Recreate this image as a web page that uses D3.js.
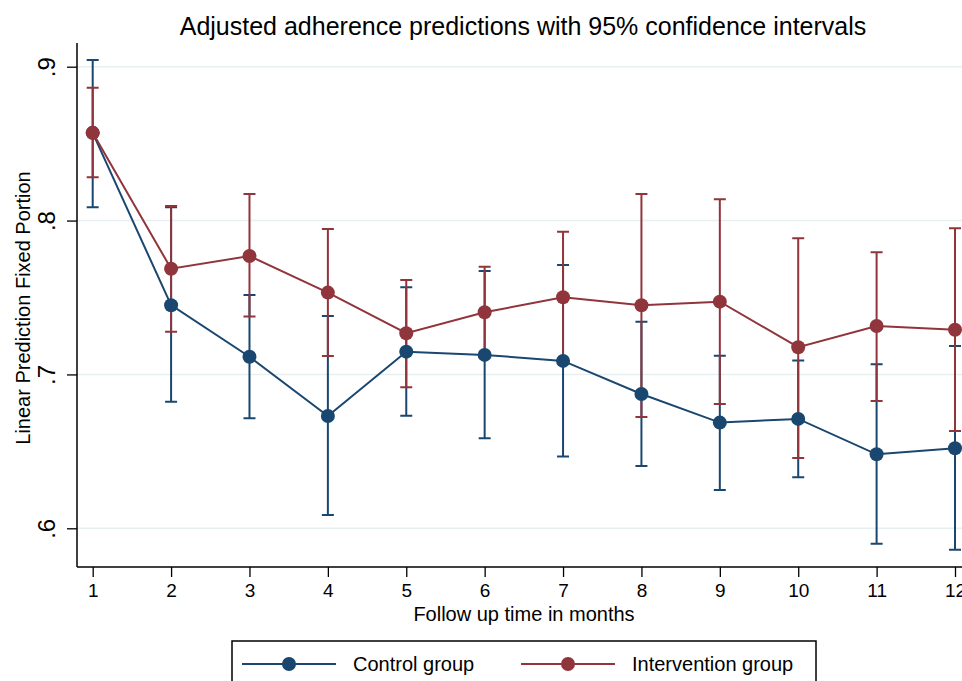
<!DOCTYPE html>
<html>
<head>
<meta charset="utf-8">
<script src="https://cdn.jsdelivr.net/npm/d3@7"></script>
<style>
  body { margin: 0; background: #fff; }
  svg { display: block; font-family: "Liberation Sans", Arial, Helvetica, sans-serif; }
</style>
</head>
<body>
<div id="chart"></div>
<script>
// data
var months = [1, 2, 3, 4, 5, 6, 7, 8, 9, 10, 11, 12]
var control_est = [0.857, 0.745, 0.7115, 0.673, 0.7148, 0.7127, 0.7088, 0.6873, 0.6687, 0.6711, 0.6481, 0.652]
var control_lo  = [0.8086, 0.6823, 0.6715, 0.6087, 0.6732, 0.6585, 0.6466, 0.6405, 0.6249, 0.6332, 0.5899, 0.586]
var control_hi  = [0.9044, 0.8086, 0.7517, 0.738, 0.7567, 0.7672, 0.7712, 0.7343, 0.7122, 0.709, 0.7066, 0.7185]
var interv_est = [0.857, 0.7687, 0.777, 0.7532, 0.7268, 0.7404, 0.7502, 0.745, 0.7473, 0.7177, 0.7315, 0.729]
var interv_lo  = [0.8281, 0.7278, 0.7376, 0.712, 0.6917, 0.7115, 0.708, 0.6724, 0.6808, 0.6457, 0.6828, 0.6633]
var interv_hi  = [0.8864, 0.8095, 0.8173, 0.7945, 0.7614, 0.77, 0.7928, 0.8173, 0.8138, 0.7885, 0.7794, 0.795]
var y_ticks = [0.6, 0.7, 0.8, 0.9]
var series_names = ['Control group', 'Intervention group']
var series_colors = ['#1a476f', '#90353b']

var width = 962
var height = 681
var plot_left = 77
var plot_top = 43
var plot_bottom = 567

var svg = d3.select('#chart')
  .append('svg')
  .attr('width', width)
  .attr('height', height)

// scales
var x = d3.scaleLinear().domain([1, 12]).range([92.7, 955])
var y = d3.scaleLinear().domain([0.6, 0.9]).range([528.3, 66.7])

// gridlines
svg.selectAll('.grid')
  .data(y_ticks)
  .enter()
  .append('line')
  .attr('x1', plot_left)
  .attr('x2', width)
  .attr('y1', d => y(d))
  .attr('y2', d => y(d))
  .attr('stroke', '#e6f0f1')
  .attr('stroke-width', 1.5)

// y axis
var yAxis = svg.append('g')
  .attr('transform', 'translate(' + plot_left + ',0)')
  .call(d3.axisLeft(y).tickValues(y_ticks).tickSize(10).tickSizeOuter(0)
    .tickFormat(d => d3.format('.1f')(d).replace(/^0/, '')))
yAxis.select('.domain').remove()
yAxis.selectAll('.tick line').attr('stroke', '#000').attr('stroke-width', 1.3)
yAxis.selectAll('.tick text')
  .attr('transform', 'rotate(-90)')
  .attr('text-anchor', 'middle')
  .attr('x', 0)
  .attr('y', -22)
  .attr('dy', 0)
  .attr('fill', '#000')
  .style('font-size', '24px')
  .style('font-family', '"Liberation Sans", Arial, sans-serif')
svg.append('line')
  .attr('x1', plot_left).attr('x2', plot_left)
  .attr('y1', plot_top).attr('y2', plot_bottom)
  .attr('stroke', '#000').attr('stroke-width', 1.5)

// x axis
var xAxis = svg.append('g')
  .attr('transform', 'translate(0,' + plot_bottom + ')')
  .call(d3.axisBottom(x).tickValues(months).tickSize(10).tickSizeOuter(0).tickFormat(d3.format('d')))
xAxis.select('.domain').remove()
xAxis.selectAll('.tick line').attr('stroke', '#000').attr('stroke-width', 1.3)
xAxis.selectAll('.tick text')
  .attr('y', 30)
  .attr('dy', 0)
  .attr('fill', '#000')
  .style('font-size', '19px')
  .style('font-family', '"Liberation Sans", Arial, sans-serif')
svg.append('line')
  .attr('x1', plot_left).attr('x2', width)
  .attr('y1', plot_bottom).attr('y2', plot_bottom)
  .attr('stroke', '#000').attr('stroke-width', 1.5)

// titles
svg.append('text')
  .attr('x', 523).attr('y', 35)
  .attr('text-anchor', 'middle')
  .style('font-size', '25px')
  .text('Adjusted adherence predictions with 95% confidence intervals')
svg.append('text')
  .attr('x', 524).attr('y', 621)
  .attr('text-anchor', 'middle')
  .style('font-size', '20px')
  .text('Follow up time in months')
svg.append('text')
  .attr('transform', 'translate(30,308) rotate(-90)')
  .attr('text-anchor', 'middle')
  .style('font-size', '20px')
  .text('Linear Prediction Fixed Portion')

// build series
var series = [
  { name: series_names[0], color: series_colors[0],
    rows: months.map((m, i) => ({ m: m, est: control_est[i], lo: control_lo[i], hi: control_hi[i] })) },
  { name: series_names[1], color: series_colors[1],
    rows: months.map((m, i) => ({ m: m, est: interv_est[i], lo: interv_lo[i], hi: interv_hi[i] })) }
]

var cap = 6

// confidence intervals first
series.forEach(s => {
  var g = svg.append('g')
  g.selectAll('.ci')
    .data(s.rows)
    .enter()
    .append('path')
    .attr('d', d => 'M' + (x(d.m) - cap) + ',' + y(d.hi) + 'H' + (x(d.m) + cap) +
      'M' + x(d.m) + ',' + y(d.hi) + 'V' + y(d.lo) +
      'M' + (x(d.m) - cap) + ',' + y(d.lo) + 'H' + (x(d.m) + cap))
    .attr('fill', 'none')
    .attr('stroke', s.color)
    .attr('stroke-width', 2)
})

// connected lines and markers
var line = d3.line().x(d => x(d.m)).y(d => y(d.est))
series.forEach(s => {
  svg.append('path')
    .datum(s.rows)
    .attr('d', line)
    .attr('fill', 'none')
    .attr('stroke', s.color)
    .attr('stroke-width', 2)
  svg.selectAll(null)
    .data(s.rows)
    .enter()
    .append('circle')
    .attr('cx', d => x(d.m))
    .attr('cy', d => y(d.est))
    .attr('r', 7)
    .attr('fill', s.color)
})

// legend
svg.append('rect')
  .attr('x', 232).attr('y', 641)
  .attr('width', 584).attr('height', 60)
  .attr('fill', '#fff')
  .attr('stroke', '#000')
  .attr('stroke-width', 1.5)
var legend_x = [242, 521]
series.forEach((s, i) => {
  var lg = svg.append('g').attr('transform', 'translate(' + legend_x[i] + ',664)')
  lg.append('line').attr('x1', 0).attr('x2', 94).attr('stroke', s.color).attr('stroke-width', 2)
  lg.append('circle').attr('cx', 47).attr('r', 7).attr('fill', s.color)
  lg.append('text')
    .attr('x', 111).attr('y', 7)
    .style('font-size', '20px')
    .text(s.name)
})
</script>
</body>
</html>
